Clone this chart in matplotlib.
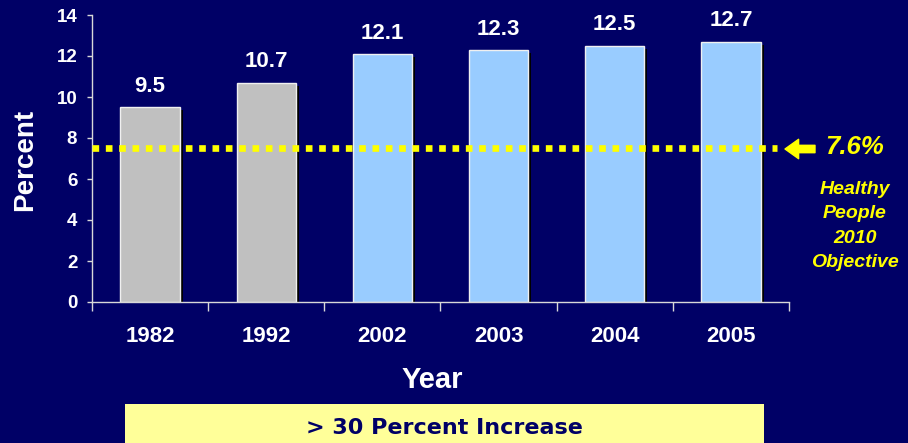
import matplotlib
matplotlib.use('Agg')
import matplotlib.pyplot as plt
from matplotlib import patheffects
from matplotlib.patches import Rectangle

# data
years = ['1982', '1992', '2002', '2003', '2004', '2005']
percent = [9.5, 10.7, 12.1, 12.3, 12.5, 12.7]
bar_colors = ['#C0C0C0', '#C0C0C0', '#99CCFF', '#99CCFF', '#99CCFF', '#99CCFF']
objective_level = 7.5
objective_label = '7.6%'
objective_text = 'Healthy\nPeople\n2010\nObjective'
banner_text = '> 30 Percent Increase'
y_ticks = [0, 2, 4, 6, 8, 10, 12, 14]

NAVY = '#000066'
YELLOW = '#FFFF00'
W, H = 908, 443

plt.rcParams['font.family'] = ['Liberation Sans', 'DejaVu Sans']
plt.rcParams['font.weight'] = 'bold'

fig = plt.figure(figsize=(W / 100, H / 100), dpi=100, facecolor=NAVY)
ax = fig.add_axes([92 / W, 1 - 302 / H, 697 / W, 287 / H], facecolor=NAVY)

x = list(range(len(years)))
shadow = [patheffects.SimplePatchShadow(offset=(2.2, -2.2), shadow_rgbFace='black', alpha=1.0),
          patheffects.Normal()]
bars = ax.bar(x, percent, width=0.51, color=bar_colors, edgecolor='#f0f0f0', linewidth=1.0, zorder=2)
for b in bars:
    b.set_path_effects(shadow)

for xi, v in zip(x, percent):
    ax.annotate(f'{v}', (xi, v), xytext=(0, 11), textcoords='offset points',
                ha='center', va='baseline', color='white', fontsize=16, fontweight='bold')

# objective dotted line
ax.hlines(objective_level, -0.5, 5.4, colors=YELLOW, linewidth=4.8,
          linestyles=(0, (1, 1)), zorder=3, capstyle='butt')

ax.set_xlim(-0.5, len(years) - 0.5)
ax.set_ylim(0, 14)
ax.set_yticks(y_ticks)
ax.set_yticklabels([str(t) for t in y_ticks])
ax.tick_params(axis='y', colors='#d8d8d8', labelcolor='white', labelsize=13.5,
               length=3.6, width=1, pad=7, direction='out')

ax.set_xticks([i - 0.5 for i in range(len(years) + 1)])
ax.set_xticklabels([])
ax.set_xticks(x, minor=True)
ax.set_xticklabels(years, minor=True)
ax.tick_params(axis='x', which='major', colors='#d8d8d8', length=6.5, width=1, direction='out')
ax.tick_params(axis='x', which='minor', length=0, labelcolor='white', labelsize=16, pad=17)
for lab in ax.get_xticklabels(minor=True) + ax.get_yticklabels():
    lab.set_fontweight('bold')

for side in ['top', 'right']:
    ax.spines[side].set_visible(False)
for side in ['left', 'bottom']:
    ax.spines[side].set_color('#d8d8d8')
    ax.spines[side].set_linewidth(1)

fig.text(432 / W, 1 - 380 / H, 'Year', ha='center', va='center', color='white',
         fontsize=21, fontweight='bold')
fig.text(25 / W, 1 - 160 / H, 'Percent', ha='center', va='center', rotation=90,
         color='white', fontsize=20, fontweight='bold')

# arrow and objective label on the right
fig_px = 'figure pixels'
ax.annotate('', xy=(785, H - 149), xycoords=fig_px, xytext=(815, H - 149), textcoords=fig_px,
            arrowprops=dict(arrowstyle='simple,head_length=0.7,head_width=1.0,tail_width=0.38',
                            color=YELLOW, mutation_scale=14, shrinkA=0, shrinkB=0))
fig.text(855 / W, 1 - 147 / H, objective_label, ha='center', va='center', color=YELLOW,
         fontsize=18.5, fontweight='bold', style='italic')
fig.text(855 / W, 1 - 226 / H, objective_text, ha='center', va='center', color=YELLOW,
         fontsize=14, fontweight='bold', style='italic', linespacing=1.55)

# banner
fig.patches.append(Rectangle((125 / W, 0), 639 / W, 39 / H, transform=fig.transFigure,
                             facecolor='#FFFF99', edgecolor='none'))
fig.text(444 / W, 9 / H, banner_text, ha='center', va='baseline', color=NAVY,
         fontsize=16, fontweight='bold', family='DejaVu Sans')

fig.savefig('out.png', dpi=100, facecolor=NAVY)
